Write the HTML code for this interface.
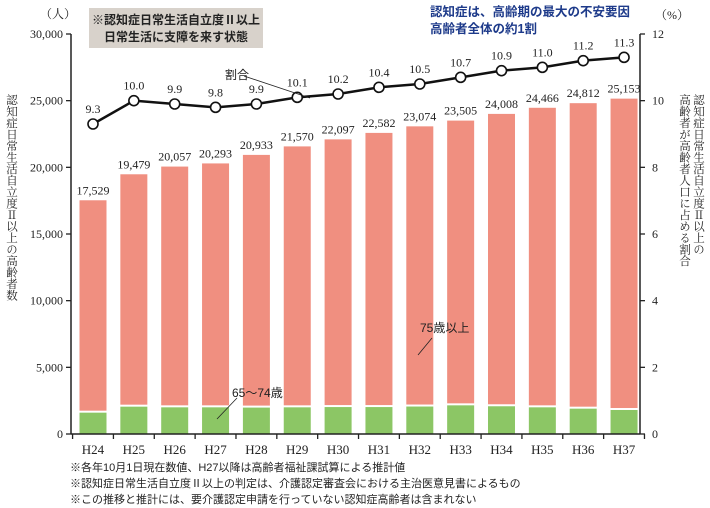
<!DOCTYPE html>
<html><head><meta charset="utf-8"><style>
body{margin:0;background:#fff;}
.v{position:absolute;writing-mode:vertical-rl;font-family:"Liberation Serif","Noto Serif CJK SC",serif;font-size:11.5px;line-height:13px;color:#222;}
</style></head><body>
<div style="position:relative;width:710px;height:508px;overflow:hidden">
<svg width="710" height="508" style="position:absolute;left:0;top:0" font-family="Liberation Serif, Noto Serif CJK SC, serif">
<rect x="89" y="8" width="174" height="40" fill="#d8d2cb"/>
<text x="176" y="24" font-size="12" font-weight="bold" text-anchor="middle" font-family="Liberation Sans, Noto Sans CJK JP, sans-serif" fill="#222">※認知症日常生活自立度Ⅱ以上</text>
<text x="176" y="41" font-size="12" font-weight="bold" text-anchor="middle" font-family="Liberation Sans, Noto Sans CJK JP, sans-serif" fill="#222">日常生活に支障を来す状態</text>
<text x="430" y="16" font-size="12.5" font-weight="bold" font-family="Liberation Sans, Noto Sans CJK JP, sans-serif" fill="#1d3a8a">認知症は、高齢期の最大の不安要因</text>
<text x="430" y="33" font-size="12.5" font-weight="bold" font-family="Liberation Sans, Noto Sans CJK JP, sans-serif" fill="#1d3a8a">高齢者全体の約1割</text>
<text x="40" y="18" font-size="12" fill="#222">（人）</text>
<text x="655" y="19" font-size="12" fill="#222">（%）</text>
<g id="bars"></g>
<line x1="71" y1="34" x2="71" y2="434" stroke="#222" stroke-width="1.5"/>
<line x1="640" y1="34" x2="640" y2="434" stroke="#222" stroke-width="1.5"/>
<line x1="71" y1="434" x2="640" y2="434" stroke="#222" stroke-width="1.5"/>
<g id="ticks" stroke="#222" stroke-width="1.3"></g>
<g id="labels" font-size="12" fill="#222"></g>
<line x1="244" y1="76" x2="310" y2="98" stroke="#222" stroke-width="0.8"/>
<text x="225" y="79" font-size="12" font-family="Liberation Sans, Noto Sans CJK JP, sans-serif" fill="#222">割合</text>
<line x1="418" y1="355" x2="432" y2="338" stroke="#222" stroke-width="0.8"/>
<text x="420" y="332" font-size="12" font-family="Liberation Sans, Noto Sans CJK JP, sans-serif" fill="#222">75歳以上</text>
<line x1="217" y1="419" x2="237" y2="398" stroke="#222" stroke-width="0.8"/>
<text x="232" y="397" font-size="12" font-family="Liberation Sans, Noto Sans CJK JP, sans-serif" fill="#222">65〜74歳</text>
<g font-size="11" font-family="Liberation Sans, Noto Sans CJK JP, sans-serif" fill="#222">
<text x="70" y="471">※各年10月1日現在数値、H27以降は高齢者福祉課試算による推計値</text>
<text x="70" y="487">※認知症日常生活自立度Ⅱ以上の判定は、介護認定審査会における主治医意見書によるもの</text>
<text x="70" y="503">※この推移と推計には、要介護認定申請を行っていない認知症高齢者は含まれない</text>
</g>
</svg>
<div class="v" style="left:4px;top:94px">認知症日常生活自立度Ⅱ以上の高齢者数</div>
<div class="v" style="left:691px;top:94px">認知症日常生活自立度Ⅱ以上の</div>
<div class="v" style="left:677px;top:94px">高齢者が高齢者人口に占める割合</div>
</div>
<script>
const ns="http://www.w3.org/2000/svg";
function el(p,t,a,txt){const e=document.createElementNS(ns,t);for(const k in a)e.setAttribute(k,a[k]);if(txt!==undefined)e.textContent=txt;document.getElementById(p).appendChild(e);return e;}
const tot=[17529,19479,20057,20293,20933,21570,22097,22582,23074,23505,24008,24466,24812,25153];
const grn=[1600,2050,2000,2000,1980,2000,2020,2020,2060,2150,2080,2000,1900,1800];
const pct=[9.3,10.0,9.9,9.8,9.9,10.1,10.2,10.4,10.5,10.7,10.9,11.0,11.2,11.3];
const x0=93,st=40.85,w=27;
const Y=v=>434-v/75, P=v=>434-v*33.333;
for(let i=0;i<14;i++){const cx=x0+i*st;
el("bars","rect",{x:cx-w/2,y:Y(tot[i]),width:w,height:Y(grn[i]+150)-Y(tot[i]),fill:"#f08f80"});
el("bars","rect",{x:cx-w/2,y:Y(grn[i]),width:w,height:434-Y(grn[i]),fill:"#8cc665"});
el("labels","text",{x:cx,y:Y(tot[i])-6,"text-anchor":"middle"},tot[i].toLocaleString("en-US"));
el("labels","text",{x:cx,y:P(pct[i])-11,"text-anchor":"middle"},pct[i].toFixed(1));
el("labels","text",{x:cx,y:454,"text-anchor":"middle","font-size":"13"},"H"+(24+i));
}
let pts=pct.map((v,i)=>(x0+i*st)+","+P(v)).join(" ");
el("bars","polyline",{points:pts,fill:"none",stroke:"#111","stroke-width":"2.5"});
pct.forEach((v,i)=>el("bars","circle",{cx:x0+i*st,cy:P(v),r:5,fill:"#fff",stroke:"#111","stroke-width":"1.6"}));
for(let k=0;k<=6;k++){const y=434-k*66.667;
el("ticks","line",{x1:66,y1:y,x2:71,y2:y});
el("labels","text",{x:63,y:y+4,"text-anchor":"end"},(k*5000).toLocaleString("en-US"));}
for(let k=0;k<=6;k++){const y=434-k*66.667;
el("ticks","line",{x1:640,y1:y,x2:645,y2:y});
el("labels","text",{x:652,y:y+4},String(k*2));}
for(let i=0;i<=14;i++){const x=x0-st/2+i*st;el("ticks","line",{x1:x,y1:434,x2:x,y2:439});}
</script>
</body></html>
